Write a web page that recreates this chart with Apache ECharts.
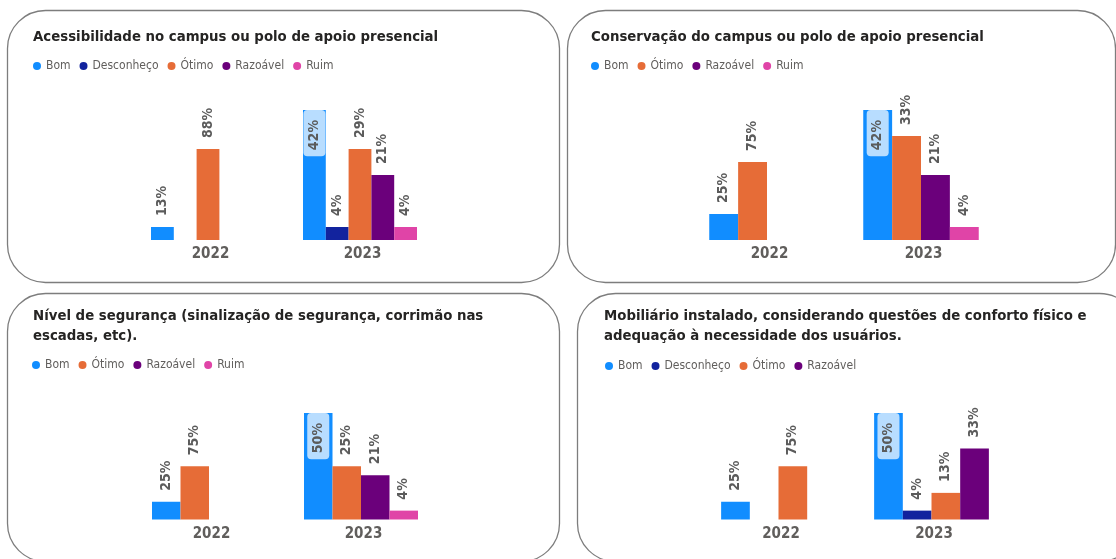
<!DOCTYPE html>
<html>
<head>
<meta charset="utf-8">
<title>Avaliação da infraestrutura</title>
<script src="https://cdn.jsdelivr.net/npm/echarts@6.0.0/dist/echarts.min.js"></script>
<style>
  html, body { margin: 0; padding: 0; background: #ffffff; }
  #chart { width: 1116px; height: 559px; }
</style>
</head>
<body>
<div id="chart"></div>
<script>
// Anos (categorias do eixo X)
const years = ['2022', '2023'];

// Número de respostas por conceito e por ano (rótulos mostram a % do total do ano)
const acessTitle = 'Acessibilidade no campus ou polo de apoio presencial';
const acessBom = [1, 10];
const acessDesconheco = [null, 1];
const acessOtimo = [7, 7];
const acessRazoavel = [null, 5];
const acessRuim = [null, 1];

const conservTitle = 'Conservação do campus ou polo de apoio presencial';
const conservBom = [2, 10];
const conservOtimo = [6, 8];
const conservRazoavel = [null, 5];
const conservRuim = [null, 1];

const segurTitle = 'Nível de segurança (sinalização de segurança, corrimão nas\nescadas, etc).';
const segurBom = [2, 12];
const segurOtimo = [6, 6];
const segurRazoavel = [null, 5];
const segurRuim = [null, 1];

const mobilTitle = 'Mobiliário instalado, considerando questões de conforto físico e\nadequação à necessidade dos usuários.';
const mobilBom = [2, 12];
const mobilDesconheco = [null, 1];
const mobilOtimo = [6, 3];
const mobilRazoavel = [null, 8];

const colors = {
  'Bom': '#118DFF',
  'Desconheço': '#12239E',
  'Ótimo': '#E66C37',
  'Razoável': '#6B007B',
  'Ruim': '#E044A7'
};

const FONT = "'DejaVu Sans Condensed', 'Liberation Sans Narrow', 'DejaVu Sans', sans-serif";

// Layout de cada painel: moldura, título, legenda e área de plotagem
const panels = [
  {
    title: acessTitle,
    series: [['Bom', acessBom], ['Desconheço', acessDesconheco], ['Ótimo', acessOtimo], ['Razoável', acessRazoavel], ['Ruim', acessRuim]],
    frame: { x: 7.5, y: 10.5, w: 552, h: 272 },
    titlePos: { left: 33, top: 27 },
    legendPos: { left: 33, top: 60 },
    grid: { left: 132, top: 110, width: 304, height: 130 }
  },
  {
    title: conservTitle,
    series: [['Bom', conservBom], ['Ótimo', conservOtimo], ['Razoável', conservRazoavel], ['Ruim', conservRuim]],
    frame: { x: 567.5, y: 10.5, w: 548, h: 272 },
    titlePos: { left: 591, top: 27 },
    legendPos: { left: 591, top: 60 },
    grid: { left: 690, top: 110, width: 308, height: 130 }
  },
  {
    title: segurTitle,
    series: [['Bom', segurBom], ['Ótimo', segurOtimo], ['Razoável', segurRazoavel], ['Ruim', segurRuim]],
    frame: { x: 7.5, y: 293.5, w: 552, h: 268 },
    titlePos: { left: 33, top: 306 },
    legendPos: { left: 32, top: 359 },
    grid: { left: 133, top: 413, width: 304, height: 106.5 }
  },
  {
    title: mobilTitle,
    series: [['Bom', mobilBom], ['Desconheço', mobilDesconheco], ['Ótimo', mobilOtimo], ['Razoável', mobilRazoavel]],
    frame: { x: 577.5, y: 293.5, w: 560, h: 268 },
    titlePos: { left: 604, top: 306 },
    legendPos: { left: 605, top: 360 },
    grid: { left: 702, top: 413, width: 306, height: 106.5 }
  }
];

const labelText = { fontFamily: FONT, fontSize: 14, fontWeight: 'bold', color: '#5b5b5b' };

const option = {
  backgroundColor: '#ffffff',
  animation: false,
  title: [],
  legend: [],
  grid: [],
  xAxis: [],
  yAxis: [],
  series: [],
  graphic: []
};

panels.forEach((p, gi) => {
  option.graphic.push({
    type: 'rect',
    silent: true,
    shape: { x: p.frame.x, y: p.frame.y, width: p.frame.w, height: p.frame.h, r: 38 },
    style: { fill: 'none', stroke: '#7d7d7d', lineWidth: 1.3 }
  });

  option.title.push({
    text: p.title,
    left: p.titlePos.left,
    top: p.titlePos.top,
    padding: 0,
    textStyle: { fontFamily: FONT, fontSize: 14.8, fontWeight: 'bold', color: '#252423', lineHeight: 20 }
  });

  option.legend.push({
    left: p.legendPos.left,
    top: p.legendPos.top,
    padding: 0,
    icon: 'circle',
    itemWidth: 8,
    itemHeight: 8,
    itemGap: 9,
    selectedMode: false,
    textStyle: { fontFamily: FONT, fontSize: 12, color: '#605E5C' },
    data: p.series.map(s => s[0])
  });

  option.grid.push(Object.assign({ containLabel: false }, p.grid));

  option.xAxis.push({
    type: 'category',
    gridIndex: gi,
    data: years,
    axisLine: { show: false },
    axisTick: { show: false },
    axisLabel: { fontFamily: FONT, fontSize: 15, fontWeight: 'bold', color: '#605E5C', margin: 7, padding: [0, 0, 0, 5] }
  });

  option.yAxis.push({
    type: 'value',
    gridIndex: gi,
    min: 0,
    max: v => v.max,
    show: false,
    splitLine: { show: false }
  });

  // Total de respostas por ano, para o percentual dos rótulos
  const totals = years.map((_, i) => p.series.reduce((acc, s) => acc + (s[1][i] || 0), 0));
  const peak = Math.max(...p.series.map(s => Math.max(...s[1].map(v => v || 0))));
  const pct = params => Math.round(params.value / totals[params.dataIndex] * 100) + '%';

  p.series.forEach(([name, values]) => {
    option.series.push({
      type: 'bar',
      name: name,
      xAxisIndex: gi,
      yAxisIndex: gi,
      barGap: '0%',
      barCategoryGap: '25%',
      itemStyle: { color: colors[name] },
      label: Object.assign({
        show: true,
        position: 'top',
        rotate: 90,
        align: 'left',
        verticalAlign: 'middle',
        distance: 6,
        padding: [2, 5],
        formatter: pct
      }, labelText),
      data: values.map(v => {
        if (v === null) return null;
        if (v === peak) {
          return {
            value: v,
            label: {
              position: 'insideTop',
              align: 'right',
              distance: 0,
              padding: [4, 10, 4, 6],
              backgroundColor: 'rgba(255,255,255,0.7)',
              borderRadius: 4
            }
          };
        }
        return v;
      })
    });
  });
});

const chart = echarts.init(document.getElementById('chart'), null, { renderer: 'canvas' });
chart.setOption(option);
</script>
</body>
</html>
